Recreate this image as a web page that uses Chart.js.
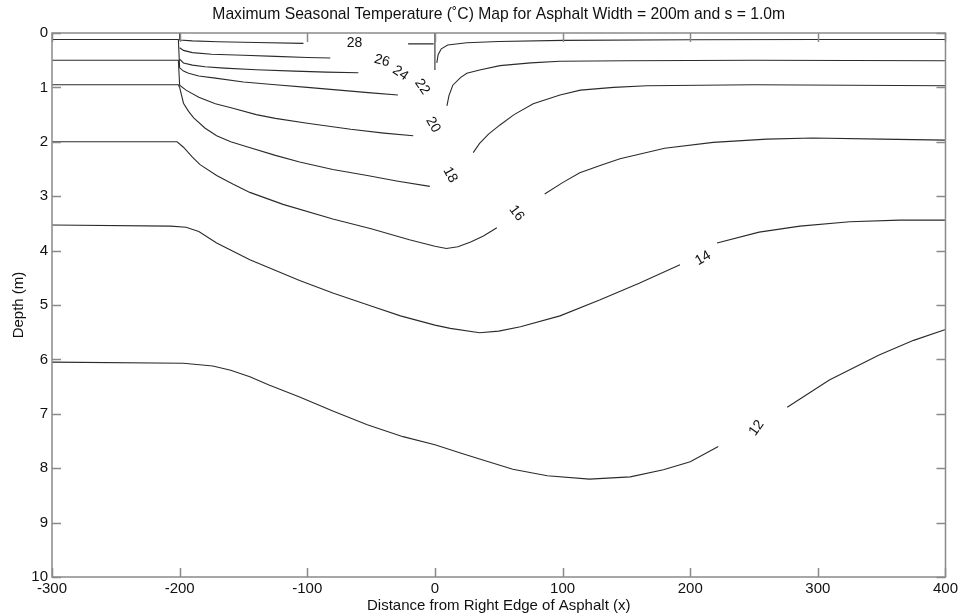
<!DOCTYPE html>
<html>
<head>
<meta charset="utf-8">
<title>Maximum Seasonal Temperature Map</title>
<script src="https://cdn.jsdelivr.net/npm/chart.js@4.4.0/dist/chart.umd.min.js"></script>
<style>
    html, body { margin: 0; padding: 0; background: #fff; }
    #wrap { width: 961px; height: 615px; }
</style>
</head>
<body>
<div id="wrap"><canvas id="myChart" width="961" height="615"></canvas></div>
<script>
// contour levels (deg C), each one drawn from an x (m) / depth (m) pair of arrays
// null breaks the line where MATLAB put the inline label
const levels = [28, 26, 24, 22, 20, 18, 16, 14, 12];

const x28 = [-200, -200, -190, -170, -140, -103, null, -21, -1];
const d28 = [0.0, 0.13, 0.145, 0.16, 0.175, 0.19, null, 0.2, 0.2];

const x26 = [-200, -197, -190, -175, -150, -125, -100, -82, null, 0, 0];
const d26 = [0.27, 0.32, 0.36, 0.39, 0.41, 0.43, 0.45, 0.46, null, 0.0, 0.68];

const x24 = [-200, -197, -190, -180, -165, -140, -110, -85, -60];
const d24 = [0.48, 0.55, 0.59, 0.62, 0.645, 0.675, 0.7, 0.72, 0.73];

const x22 = [-300, -201, -200, -197, -193, -185, -172, -150, -125, -100, -75, -50, -29, null,
    1.5, 2.5, 5, 10, 25, 50, 100, 200, 300, 400];
const d22 = [0.12, 0.12, 0.64, 0.7, 0.74, 0.79, 0.83, 0.9, 0.95, 1.0, 1.05, 1.1, 1.14, null,
    0.55, 0.4, 0.29, 0.22, 0.18, 0.155, 0.135, 0.125, 0.12, 0.12];

const x20 = [-300, -201, -200, -195, -185, -172, -159, -140, -125, -100, -66, -40, -17, null,
    9.4, 11, 14, 20, 25, 35, 51, 75, 98, 150, 250, 400];
const d20 = [0.5, 0.5, 0.96, 1.05, 1.18, 1.3, 1.38, 1.5, 1.57, 1.66, 1.77, 1.84, 1.89, null,
    1.34, 1.15, 0.96, 0.82, 0.74, 0.68, 0.6, 0.55, 0.52, 0.51, 0.5, 0.51];

const x18 = [-300, -201, -200, -197, -193, -189, -180, -171, -160, -146, -125, -106, -80, -53, -30, -4, null,
    30, 35, 42, 51, 62, 77, 98, 114, 140, 166, 250, 400];
const d18 = [0.95, 0.95, 1.0, 1.29, 1.44, 1.56, 1.75, 1.89, 2.0, 2.1, 2.25, 2.37, 2.51, 2.62, 2.72, 2.82, null,
    2.2, 2.03, 1.86, 1.69, 1.5, 1.3, 1.14, 1.05, 1.0, 0.97, 0.95, 0.97];

const x16 = [-300, -202, -197, -190, -184, -171, -158, -145, -119, -80, -50, -20, 0, 9, 18, 28, 38, 48.5, null,
    86, 100, 113.5, 130, 145, 180, 218, 260, 296, 350, 400];
const d16 = [2.0, 2.0, 2.1, 2.28, 2.42, 2.62, 2.78, 2.93, 3.15, 3.42, 3.6, 3.8, 3.92, 3.96, 3.93, 3.84, 3.73, 3.58, null,
    2.96, 2.75, 2.57, 2.43, 2.31, 2.12, 2.01, 1.95, 1.93, 1.95, 1.97];

const x14 = [-300, -207, -195, -185, -171, -145, -106, -80, -50, -27, 0, 12, 35, 50, 67, 98, 129, 160, 192, null,
    221, 254, 286, 325, 364, 400];
const d14 = [3.53, 3.55, 3.57, 3.65, 3.86, 4.17, 4.55, 4.78, 5.02, 5.2, 5.37, 5.43, 5.51, 5.48, 5.4, 5.2, 4.91, 4.6, 4.26, null,
    3.86, 3.66, 3.55, 3.47, 3.44, 3.44];

const x12 = [-300, -197, -174, -160, -145, -130, -106, -80, -53, -25, 0, 20, 35, 61, 88, 121, 153, 179, 200, 222, null,
    276, 309, 348, 375, 400];
const d12 = [6.05, 6.07, 6.12, 6.2, 6.32, 6.47, 6.69, 6.95, 7.2, 7.42, 7.57, 7.72, 7.83, 8.02, 8.14, 8.2, 8.16, 8.03, 7.88, 7.6, null,
    6.88, 6.38, 5.92, 5.65, 5.45];

// inline contour labels
const labelText = ['28', '26', '24', '22', '20', '18', '16', '14', '12'];
const labelX = [-63, -41.5, -27, -10, -1.5, 12, 64, 210, 252];
const labelDepth = [0.18, 0.51, 0.74, 0.99, 1.69, 2.61, 3.31, 4.14, 7.26];
const labelAngle = [0, 15, 34, 56, 60, 61, 53, -30, -55];

const xTicks = [-300, -200, -100, 0, 100, 200, 300, 400];
const yTicks = [0, 1, 2, 3, 4, 5, 6, 7, 8, 9, 10];

const FONT = 'Arial, "Liberation Sans", Helvetica, sans-serif';

const contourX = [x28, x26, x24, x22, x20, x18, x16, x14, x12];
const contourD = [d28, d26, d24, d22, d20, d18, d16, d14, d12];

function toPoints(xs, ds) {
    return xs.map((x, i) => ({ x: x, y: ds[i] }));
}

const datasets = levels.map((lv, i) => ({
    label: lv + ' \u00B0C',
    data: toPoints(contourX[i], contourD[i]),
    showLine: true,
    spanGaps: false,
    borderColor: '#2b2b2b',
    borderWidth: 1.1,
    pointRadius: 0,
    tension: 0
}));

// labels written along the contours
const contourLabels = {
    id: 'contourLabels',
    afterDatasetsDraw(chart) {
        const ctx = chart.ctx;
        const sx = chart.scales.x;
        const sy = chart.scales.y;
        ctx.save();
        ctx.font = '14px ' + FONT;
        ctx.fillStyle = '#111';
        ctx.textAlign = 'center';
        ctx.textBaseline = 'middle';
        labelText.forEach((t, i) => {
            ctx.save();
            ctx.translate(sx.getPixelForValue(labelX[i]), sy.getPixelForValue(labelDepth[i]));
            ctx.rotate(labelAngle[i] * Math.PI / 180);
            ctx.fillText(t, 0, 0);
            ctx.restore();
        });
        ctx.restore();
    }
};

// matlab style box with inward ticks on every side
const boxFrame = {
    id: 'boxFrame',
    afterDraw(chart) {
        const ctx = chart.ctx;
        const a = chart.chartArea;
        const sx = chart.scales.x;
        const sy = chart.scales.y;
        const len = 9;
        ctx.save();
        ctx.strokeStyle = '#8a8a8a';
        ctx.lineWidth = 1.5;
        ctx.strokeRect(a.left, a.top, a.right - a.left, a.bottom - a.top);
        ctx.beginPath();
        xTicks.forEach(v => {
            const px = Math.round(sx.getPixelForValue(v)) + 0.5;
            ctx.moveTo(px, a.bottom);
            ctx.lineTo(px, a.bottom - len);
            ctx.moveTo(px, a.top);
            ctx.lineTo(px, a.top + len);
        });
        yTicks.forEach(v => {
            const py = Math.round(sy.getPixelForValue(v)) + 0.5;
            ctx.moveTo(a.left, py);
            ctx.lineTo(a.left + len, py);
            ctx.moveTo(a.right, py);
            ctx.lineTo(a.right - len, py);
        });
        ctx.stroke();
        ctx.restore();
    }
};

const config = {
    type: 'scatter',
    data: { datasets: datasets },
    options: {
        responsive: false,
        animation: false,
        events: [],
        layout: { padding: { left: 0, right: 15, top: 0, bottom: 0 } },
        plugins: {
            legend: { display: false },
            tooltip: { enabled: false },
            title: {
                display: true,
                fullSize: false,
                text: 'Maximum Seasonal Temperature (\u02DAC) Map for Asphalt Width = 200m and s = 1.0m',
                color: '#111',
                font: { family: FONT, size: 15.7, weight: 'normal', lineHeight: 1 },
                padding: { top: 7, bottom: 10.3 }
            }
        },
        scales: {
            x: {
                type: 'linear',
                min: -300,
                max: 400,
                grid: { display: false, drawTicks: false, tickLength: 0 },
                border: { display: false },
                ticks: {
                    stepSize: 100,
                    maxRotation: 0,
                    autoSkip: false,
                    padding: 3,
                    color: '#111',
                    font: { family: FONT, size: 15 }
                },
                title: {
                    display: true,
                    text: 'Distance from Right Edge of Asphalt (x)',
                    color: '#111',
                    font: { family: FONT, size: 15 },
                    padding: { top: 0, bottom: 0 }
                },
                afterFit(scale) { scale.height = 38; }
            },
            y: {
                type: 'linear',
                reverse: true,
                min: 0,
                max: 10,
                grid: { display: false, drawTicks: false, tickLength: 0 },
                border: { display: false },
                ticks: {
                    stepSize: 1,
                    padding: 4,
                    color: '#111',
                    font: { family: FONT, size: 15 }
                },
                title: {
                    display: true,
                    text: 'Depth (m)',
                    color: '#111',
                    font: { family: FONT, size: 15 },
                    padding: { top: 10, bottom: 0 }
                },
                afterFit(scale) { scale.width = 52; }
            }
        }
    },
    plugins: [contourLabels, boxFrame]
};

let myChart = new Chart(document.getElementById('myChart'), config);
</script>
</body>
</html>
